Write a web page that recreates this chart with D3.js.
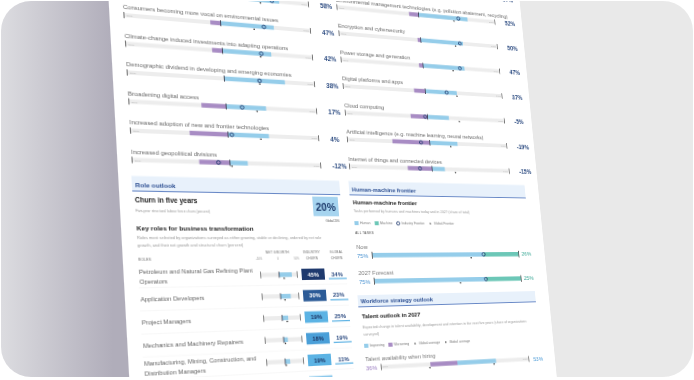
<!DOCTYPE html>
<html><head><meta charset="utf-8">
<script src="https://cdn.jsdelivr.net/npm/d3@7"></script>
<style>
html,body{margin:0;padding:0;background:#fff;width:694px;height:380px;overflow:hidden}
#card{position:absolute;left:1px;top:1px;width:692px;height:376px;border-radius:30px;overflow:hidden;
 background:linear-gradient(to right,#dcdce0 0px,#b0adba 112px,#b0adba 505px,#e9e9e9 505px);}
#page{position:absolute;left:0;top:0;transform-origin:0 0;}
#page svg{display:block}
</style></head><body><div id="card"><div id="page"></div></div>
<script>
// ---------- DATA ----------
const macroTrends = ["Increased focus on environmental, social and governance (ESG) standards",
  "Consumers becoming more vocal on environmental issues",
  "Climate-change induced investments into adapting operations",
  "Demographic dividend in developing and emerging economies",
  "Broadening digital access",
  "Increased adoption of new and frontier technologies",
  "Increased geopolitical divisions"];
const macroDisplacing = [-8, -11, -11, 0, -26, -40, -32];
const macroCreating = [66, 58, 53, 66, 43, 44, 19];
const macroIndustryNet = [58, 47, 42, 38, 17, 4, -12];
const macroGlobalNet = [45, 36, 41, 38, 33, 35, 2];
const macroNetLabels = [58, 47, 42, 38, 17, 4, -12];

const technologies = ["Big-data analytics",
  "Environmental management technologies (e.g. pollution abatement, recycling)",
  "Encryption and cybersecurity",
  "Power storage and generation",
  "Digital platforms and apps",
  "Cloud computing",
  "Artificial intelligence (e.g. machine learning, neural networks)",
  "Internet of things and connected devices"];
const techDisplacing = [-6, -12, -4, -5, -14, -21, -46, -30];
const techCreating = [63, 63, 54, 53, 40, 27, 35, 16];
const techIndustryNet = [57, 51, 50, 47, 27, -3, -11, -15];
const techGlobalNet = [50, 45, 44, 38, 40, 40, 26, 29];
const techNetLabels = [57, 52, 50, 47, 37, -5, -19, -15];

const churnFiveYears = 20, churnGlobal = 20;
const roles = ["Petroleum and Natural Gas Refining Plant Operators", "Application Developers",
  "Project Managers", "Mechanics and Machinery Repairers",
  "Manufacturing, Mining, Construction, and Distribution Managers", "Sales Representatives"];
const roleNetGrowth = [34, 27, 16, 11, 13, 10];
const roleGlobalGrowth = [13, 11, 13, 4, 2, 5];
const industryChurn = [45, 30, 19, 18, 19, 22];
const globalChurn = [34, 23, 25, 19, 11, 24];
const netGrowthTicks = ["-50%", "0", "50%"];

const frontierPeriods = ["Now", "2027 Forecast"];
const humanShare = [75, 75];
const machineShare = [26, 25];
const industryFrontier = [75, 75];
const globalFrontier = [66, 57];

const talentItems = ["Talent availability when hiring"];
const talentWorsening = [36];
const talentImproving = [53];
const talentGlobalWorsening = [37];
const talentGlobalImproving = [50];

// ---------- STYLE ----------
const FONT = "'Liberation Sans', Arial, Helvetica, sans-serif";
const BLUE = "#95cdea", PURPLE = "#a88cc4", TEAL = "#6cc7b7", NAVY = "#1f3a6e", HEAD = "#2d4f92";
const churnColors = ["#1f3a6e", "#2c5b97", "#5cb3e4", "#4a9fd8", "#5cb3e4", "#8dc9ec"];
const churnText = ["#fff", "#fff", "#1c3361", "#1c3361", "#1c3361", "#1c3361"];

// ---------- PAGE ----------
const SW = 460, SH = 560, OX = 14, OY = 130;
const svg = d3.select('#page').style('width', SW + 'px').style('height', SH + 'px')
  .append('svg').attr('width', SW).attr('height', SH);
const g = svg.append('g').attr('transform', `translate(${OX},${OY})`).style('font-family', FONT);
g.append('rect').attr('x', -13).attr('y', -OY).attr('width', 451).attr('height', SH).attr('fill', '#fff');

function txt(sel, x, y, s, size, fill, opts = {}) {
  const t = sel.append('text').attr('x', x).attr('y', y).text(s)
    .attr('font-size', size).attr('fill', fill);
  if (opts.bold) t.attr('font-weight', 'bold');
  if (opts.anchor) t.attr('text-anchor', opts.anchor);
  if (opts.ls) t.attr('letter-spacing', opts.ls);
  return t;
}
const pct = d => d + "%";

// impact rows (macro trends / technologies)
const ROW = 27.5;
function impactRows(names, disp, create, ind, glob, labels, x, first) {
  names.forEach((name, i) => {
    const v = (first + i) * ROW;
    const r = g.append('g').attr('transform', `translate(0,${v})`);
    const x0 = x(-100), x1 = x(100);
    txt(r, x0, -5.6, name, 5.9, '#6a6a6a');
    r.append('rect').attr('x', x0).attr('y', -2).attr('width', x1 - x0).attr('height', 4).attr('fill', '#ededed');
    [x0, x1 - 0.8].forEach(xx => r.append('rect').attr('x', xx).attr('y', -3).attr('width', 0.8).attr('height', 6).attr('fill', '#555'));
    txt(r, x0 + 2, 1, '-100%', 2.3, '#aaa');
    txt(r, x1 - 2, 1, '100%', 2.3, '#aaa', { anchor: 'end' });
    r.append('rect').attr('x', x(disp[i])).attr('y', -2.2).attr('width', x(0) - x(disp[i])).attr('height', 4.4).attr('fill', PURPLE);
    r.append('rect').attr('x', x(0)).attr('y', -2.2).attr('width', x(create[i]) - x(0)).attr('height', 4.4).attr('fill', BLUE);
    r.append('rect').attr('x', x(0) - 0.4).attr('y', -3).attr('width', 0.8).attr('height', 6).attr('fill', '#2a2a3a');
    r.append('circle').attr('cx', x(ind[i])).attr('cy', 0).attr('r', 1.8).attr('fill', 'none').attr('stroke', NAVY).attr('stroke-width', 0.9);
    r.append('circle').attr('cx', x(glob[i])).attr('cy', 3.3).attr('r', 0.8).attr('fill', '#222');
    txt(r, x1 + 12, 2.5, pct(labels[i]), 6.6, '#2b4a80', { bold: true });
  });
}
const xL = d3.scaleLinear().domain([-100, 100]).range([0, 187]);
const xR = d3.scaleLinear().domain([-100, 100]).range([217, 404]);
impactRows(macroTrends, macroDisplacing, macroCreating, macroIndustryNet, macroGlobalNet, macroNetLabels, xL, -1);
impactRows(technologies, techDisplacing, techCreating, techIndustryNet, techGlobalNet, techNetLabels, xR, -2);

// section bands
function band(x0, x1, y0, y1, label) {
  g.append('rect').attr('x', x0).attr('y', y0).attr('width', x1 - x0).attr('height', y1 - y0).attr('fill', '#e8f1fb');
  g.append('rect').attr('x', x0).attr('y', y1 - 0.9).attr('width', x1 - x0).attr('height', 0.9).attr('fill', '#5a7cc0');
  txt(g, x0 + 3, y1 - 4.2, label, 6.2, HEAD, { bold: true });
}
band(-1, 205, 152.5, 167, 'Role outlook');
band(215, 421, 152.5, 167, 'Human-machine frontier');
band(215, 421, 267, 279, 'Workforce strategy outlook');

// ---------- ROLE OUTLOOK ----------
txt(g, 1, 177.5, 'Churn in five years', 6.5, '#1a1a1a', { bold: true });
txt(g, 1, 186, 'Five-year structural labour force churn (percent)', 3.3, '#9a9a9a');
g.append('rect').attr('x', 175).attr('y', 168.8).attr('width', 27).attr('height', 19.5).attr('fill', '#a6d4ef');
txt(g, 188.5, 182.6, pct(churnFiveYears), 10.5, '#1d3a6b', { bold: true, anchor: 'middle' });
txt(g, 202, 193.6, 'Global ' + pct(churnGlobal), 2.8, '#555', { anchor: 'end' });

txt(g, 1, 203, 'Key roles for business transformation', 6.2, '#1a1a1a', { bold: true });
txt(g, 1, 211, 'Roles most selected by organizations surveyed as either growing, stable or declining, ordered by net role', 3.9, '#9a9a9a');
txt(g, 1, 218.5, 'growth, and their net growth and structural churn (percent)', 3.9, '#9a9a9a');

const xNG = d3.scaleLinear().domain([-50, 50]).range([116, 154]);
txt(g, 1, 231, 'ROLES', 3.2, '#666', { ls: 0.2 });
txt(g, xNG(0), 225.5, 'NET GROWTH', 3.2, '#666', { anchor: 'middle', ls: 0.2 });
netGrowthTicks.forEach((t, i) => txt(g, xNG([-50, 0, 50][i]), 231.5, t, 2.8, '#999', { anchor: 'middle' }));
['INDUSTRY', 'CHURN'].forEach((t, i) => txt(g, 170, 225.5 + i * 6, t, 3.2, '#666', { anchor: 'middle', ls: 0.2 }));
['GLOBAL', 'CHURN'].forEach((t, i) => txt(g, 196, 225.5 + i * 6, t, 3.2, '#666', { anchor: 'middle', ls: 0.2 }));

const roleY = d3.scaleLinear().domain([0, 1]).range([245.5, 266.25]);
const ROLE_FS = 5.8;
roles.forEach((name, i) => {
  const rc = roleY(i);
  const r = g.append('g').attr('transform', `translate(0,${rc})`);
  const t = r.append('text').attr('font-size', ROLE_FS).attr('fill', '#666');
  const words = name.split(' ');
  let lines = [], cur = [];
  const probe = r.append('text').attr('font-size', ROLE_FS);
  words.forEach(w => {
    probe.text(cur.concat([w]).join(' '));
    if (probe.node().getComputedTextLength() > 112 && cur.length) { lines.push(cur.join(' ')); cur = [w]; }
    else cur.push(w);
  });
  lines.push(cur.join(' '));
  probe.remove();
  const base = lines.length === 1 ? 2.1 : -2.9;
  lines.forEach((l, k) => t.append('tspan').attr('x', 1).attr('y', base + k * 9.6).text(l));
  g.append('rect').attr('x', 0).attr('y', rc + 10.1).attr('width', 205).attr('height', 0.4).attr('fill', '#eeeeee');
  r.append('rect').attr('x', xNG(-50)).attr('y', -2).attr('width', xNG(50) - xNG(-50)).attr('height', 4).attr('fill', '#ececec');
  [xNG(-50), xNG(50) - 0.7].forEach(xx => r.append('rect').attr('x', xx).attr('y', -3.2).attr('width', 0.7).attr('height', 6.4).attr('fill', '#555'));
  r.append('rect').attr('x', xNG(0)).attr('y', -2.2).attr('width', xNG(roleNetGrowth[i]) - xNG(0)).attr('height', 4.4).attr('fill', BLUE);
  r.append('rect').attr('x', xNG(0) - 0.35).attr('y', -3).attr('width', 0.7).attr('height', 6).attr('fill', '#2a2a3a');
  r.append('circle').attr('cx', xNG(roleGlobalGrowth[i])).attr('cy', 3.4).attr('r', 0.75).attr('fill', '#222');
  r.append('rect').attr('x', 158).attr('y', -5.5).attr('width', 24).attr('height', 11).attr('fill', churnColors[i]);
  txt(r, 170, 2.1, pct(industryChurn[i]), 5.8, churnText[i], { bold: true, anchor: 'middle' });
  txt(r, 195, 2.1, pct(globalChurn[i]), 6.0, '#2b4a80', { bold: true, anchor: 'middle' });
  r.append('rect').attr('x', 186).attr('y', 4).attr('width', 19).attr('height', 1.2).attr('fill', '#5fb3e4');
});

// ---------- HUMAN-MACHINE FRONTIER ----------
txt(g, 218, 176.5, 'Human-machine frontier', 6.2, '#1a1a1a', { bold: true });
txt(g, 218, 184.5, 'Tasks performed by humans and machines today and in 2027 (share of total)', 3.9, '#9a9a9a');
function legend(x, y, items) {
  let cx = x;
  items.forEach(it => {
    if (it.type === 'rect') g.append('rect').attr('x', cx).attr('y', y - 2).attr('width', 4.5).attr('height', 4).attr('fill', it.color);
    else if (it.type === 'circle') g.append('circle').attr('cx', cx + 2).attr('cy', y).attr('r', 1.7).attr('fill', 'none').attr('stroke', NAVY).attr('stroke-width', 0.9);
    else g.append('circle').attr('cx', cx + 2).attr('cy', y).attr('r', 0.8).attr('fill', '#222');
    const t = txt(g, cx + 6, y + 1.2, it.label, 3.6, '#777');
    cx += 6 + t.node().getComputedTextLength() + 4.5;
  });
}
legend(218, 195, [{ type: 'rect', color: BLUE, label: 'Human' }, { type: 'rect', color: TEAL, label: 'Machine' },
  { type: 'circle', label: 'Industry Frontier' }, { type: 'dot', label: 'Global Frontier' }]);
txt(g, 218, 206.2, 'ALL TASKS', 3.4, '#444', { ls: 0.3 });

const xF = d3.scaleLinear().domain([0, 100]).range([235, 405]);
const frontierY = d3.scaleLinear().domain([0, 1]).range([219, 245]);
frontierPeriods.forEach((p, i) => {
  const ly = frontierY(i), by = ly + 8.3;
  txt(g, 218, ly + 2.1, p, 6.0, '#7a7a7a');
  g.append('rect').attr('x', xF(0)).attr('y', by - 2.3).attr('width', xF(humanShare[i]) - xF(0)).attr('height', 4.6).attr('fill', BLUE);
  g.append('rect').attr('x', xF(humanShare[i])).attr('y', by - 2.3).attr('width', xF(100) - xF(humanShare[i])).attr('height', 4.6).attr('fill', TEAL);
  [xF(0) - 0.8, xF(100)].forEach(xx => g.append('rect').attr('x', xx).attr('y', by - 3.5).attr('width', 0.8).attr('height', 7).attr('fill', '#333'));
  g.append('circle').attr('cx', xF(industryFrontier[i])).attr('cy', by).attr('r', 1.8).attr('fill', 'none').attr('stroke', NAVY).attr('stroke-width', 0.9);
  g.append('circle').attr('cx', xF(globalFrontier[i])).attr('cy', by + 3.4).attr('r', 0.8).attr('fill', '#222');
  txt(g, 218, by + 2.4, pct(humanShare[i]), 6.0, '#4a93d1');
  txt(g, 409, by + 1.6, pct(machineShare[i]), 6.0, '#3aa896');
});

// ---------- WORKFORCE STRATEGY ----------
txt(g, 218, 290.5, 'Talent outlook in 2027', 6.2, '#1a1a1a', { bold: true });
txt(g, 218, 299.7, 'Expected change in talent availability, development and retention in the next five years (share of organizations', 3.9, '#9a9a9a');
txt(g, 218, 307.4, 'surveyed)', 3.9, '#9a9a9a');
legend(218, 317, [{ type: 'rect', color: BLUE, label: 'Improving' }, { type: 'rect', color: PURPLE, label: 'Worsening' },
  { type: 'dot', label: 'Global average' }, { type: 'dot', label: 'Global average' }]);

const xT = d3.scaleLinear().domain([-100, 100]).range([234, 406]);
talentItems.forEach((name, i) => {
  const ly = 330 + i * 26, by = ly + 8.5;
  txt(g, 218, ly + 2.1, name, 6.0, '#7a7a7a');
  g.append('rect').attr('x', xT(-100)).attr('y', by - 2).attr('width', xT(100) - xT(-100)).attr('height', 4).attr('fill', '#ededed');
  [xT(-100), xT(100) - 0.8].forEach(xx => g.append('rect').attr('x', xx).attr('y', by - 3).attr('width', 0.8).attr('height', 6).attr('fill', '#555'));
  txt(g, xT(-100) + 2, by + 1, '100%', 2.3, '#aaa');
  txt(g, xT(100) - 2, by + 1, '100%', 2.3, '#aaa', { anchor: 'end' });
  g.append('rect').attr('x', xT(-talentWorsening[i])).attr('y', by - 2.2).attr('width', xT(0) - xT(-talentWorsening[i])).attr('height', 4.4).attr('fill', PURPLE);
  g.append('rect').attr('x', xT(0)).attr('y', by - 2.2).attr('width', xT(talentImproving[i]) - xT(0)).attr('height', 4.4).attr('fill', BLUE);
  g.append('circle').attr('cx', xT(-talentGlobalWorsening[i])).attr('cy', by + 3.3).attr('r', 0.8).attr('fill', '#222');
  g.append('circle').attr('cx', xT(talentGlobalImproving[i])).attr('cy', by + 3.3).attr('r', 0.8).attr('fill', '#222');
  txt(g, 218, by + 2.4, pct(talentWorsening[i]), 6.0, '#9a7cc0');
  txt(g, 411, by + 2.2, pct(talentImproving[i]), 6.0, '#4a9ad6');
});

// ---------- PERSPECTIVE (homography page -> photo) ----------
function solve(A, b) {
  const n = b.length;
  A = A.map((row, i) => row.concat([b[i]]));
  for (let c = 0; c < n; c++) {
    let p = c;
    for (let r = c + 1; r < n; r++) if (Math.abs(A[r][c]) > Math.abs(A[p][c])) p = r;
    [A[c], A[p]] = [A[p], A[c]];
    for (let r = 0; r < n; r++) {
      if (r === c) continue;
      const f = A[r][c] / A[c][c];
      for (let k = c; k <= n; k++) A[r][k] -= f * A[c][k];
    }
  }
  return A.map((row, i) => row[n] / row[i]);
}
function homography(src, dst) {
  const A = [], b = [];
  for (let i = 0; i < 4; i++) {
    const [x, y] = src[i], [X, Y] = dst[i];
    A.push([x, y, 1, 0, 0, 0, -X * x, -X * y]); b.push(X);
    A.push([0, 0, 0, x, y, 1, -Y * x, -Y * y]); b.push(Y);
  }
  return solve(A, b);
}
const src = [[0, 0], [217.1, 0], [0, 338.4], [217.1, 338.4]].map(([u, v]) => [u + OX, v + OY]);
const dst = [[123.45, 15.04], [338.65, 33.2], [143.9, 379.8], [365.1, 367.8]].map(([x, y]) => [x - 1, y - 1]);
const [a, b, c, d, e, f, h7, h8] = homography(src, dst);
document.getElementById('page').style.transform =
  `matrix3d(${a},${d},0,${h7},${b},${e},0,${h8},0,0,1,0,${c},${f},0,1)`;
</script></body></html>
